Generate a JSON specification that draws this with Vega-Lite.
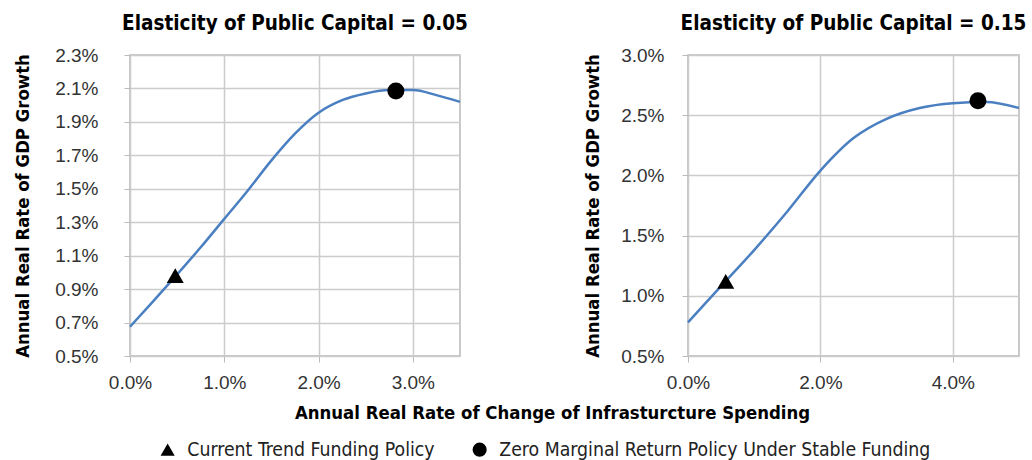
{
  "$schema": "https://vega.github.io/schema/vega-lite/v6.json",
  "padding": {"left": 12, "top": 12, "right": 8, "bottom": 4},
  "background": "white",
  "bounds": "flush",
  "spacing": 228,
  "resolve": {"scale": {"shape": "shared"}, "legend": {"shape": "shared"}},
  "config": {
    "view": {"stroke": "#b8b8b8", "strokeWidth": 1.5},
    "axis": {
      "labelFont": "Liberation Sans", "labelFontSize": 19, "labelColor": "#333333", "labelOverlap": false, "labelFlush": false,
      "titleFont": "DejaVu Sans Condensed", "titleFontWeight": "bold", "titleFontSize": 18.4, "titleColor": "#000000",
      "gridColor": "#cccccc", "gridWidth": 1.5, "domain": false, "tickColor": "#bbbbbb", "tickSize": 6
    },
    "title": {"font": "DejaVu Sans Condensed", "fontSize": 20.5, "fontWeight": "bold", "color": "#000000"},
    "legend": {"labelFont": "DejaVu Sans Condensed", "labelFontSize": 19.3, "labelColor": "#222222", "labelLimit": 0}
  },
  "datasets": {
    "left_curve": [
      {"x": 0.0, "y": 0.00675},
      {"x": 0.0025, "y": 0.0083},
      {"x": 0.005, "y": 0.00988},
      {"x": 0.0075, "y": 0.0115},
      {"x": 0.01, "y": 0.0132},
      {"x": 0.0125, "y": 0.0149},
      {"x": 0.015, "y": 0.0167},
      {"x": 0.0175, "y": 0.0183},
      {"x": 0.02, "y": 0.01955},
      {"x": 0.0225, "y": 0.0203},
      {"x": 0.025, "y": 0.0207},
      {"x": 0.0275, "y": 0.0209},
      {"x": 0.03, "y": 0.0209},
      {"x": 0.0325, "y": 0.0206},
      {"x": 0.035, "y": 0.0202}
    ],
    "left_points": [
      {"x": 0.0048, "y": 0.0098, "policy": "Current Trend Funding Policy"},
      {"x": 0.0282, "y": 0.02085, "policy": "Zero Marginal Return Policy Under Stable Funding"}
    ],
    "right_curve": [
      {"x": 0.0, "y": 0.0078},
      {"x": 0.005, "y": 0.0108},
      {"x": 0.01, "y": 0.0138},
      {"x": 0.015, "y": 0.017},
      {"x": 0.02, "y": 0.0204},
      {"x": 0.025, "y": 0.0231},
      {"x": 0.03, "y": 0.0247},
      {"x": 0.035, "y": 0.0256},
      {"x": 0.04, "y": 0.026},
      {"x": 0.045, "y": 0.0261},
      {"x": 0.05, "y": 0.0256}
    ],
    "right_points": [
      {"x": 0.0057, "y": 0.0112, "policy": "Current Trend Funding Policy"},
      {"x": 0.0438, "y": 0.0262, "policy": "Zero Marginal Return Policy Under Stable Funding"}
    ]
  },
  "hconcat": [
    {
      "width": 330,
      "height": 301,
      "title": {"text": "Elasticity of Public Capital = 0.05", "anchor": "middle", "offset": 12},
      "layer": [
        {
          "data": {"name": "left_curve"},
          "mark": {"type": "line", "color": "#4a7fc1", "strokeWidth": 2.5, "interpolate": "monotone"},
          "encoding": {
            "x": {"field": "x", "type": "quantitative", "scale": {"domain": [0, 0.035], "nice": false},
              "axis": {"values": [0, 0.01, 0.02, 0.03], "tickCount": 20, "format": ".1%", "labelPadding": 11,
                "title": "Annual Real Rate of Change of Infrasturcture Spending", "titleX": 422, "titleY": 47}},
            "y": {"field": "y", "type": "quantitative", "scale": {"domain": [0.005, 0.023], "nice": false, "zero": false},
              "axis": {"values": [0.005, 0.007, 0.009, 0.011, 0.013, 0.015, 0.017, 0.019, 0.021, 0.023], "tickCount": 20, "format": ".1%", "labelPadding": 26,
                "title": "Annual Real Rate of GDP Growth", "titlePadding": 22}}
          }
        },
        {
          "data": {"name": "left_points"},
          "mark": {"type": "point", "filled": true, "color": "#000000", "opacity": 1, "size": 289},
          "encoding": {
            "x": {"field": "x", "type": "quantitative"},
            "y": {"field": "y", "type": "quantitative"},
            "shape": {"field": "policy", "type": "nominal",
              "scale": {"domain": ["Current Trend Funding Policy", "Zero Marginal Return Policy Under Stable Funding"], "range": ["triangle-up", "circle"]},
              "legend": {"title": null, "orient": "none", "direction": "horizontal", "legendX": 28, "legendY": 385, "symbolSize": 200, "symbolFillColor": "#000000", "symbolStrokeColor": "#000000", "columnPadding": 34, "labelOffset": 10}}
          }
        }
      ]
    },
    {
      "width": 331,
      "height": 301,
      "title": {"text": "Elasticity of Public Capital = 0.15", "anchor": "middle", "offset": 12},
      "layer": [
        {
          "data": {"name": "right_curve"},
          "mark": {"type": "line", "color": "#4a7fc1", "strokeWidth": 2.5, "interpolate": "monotone"},
          "encoding": {
            "x": {"field": "x", "type": "quantitative", "scale": {"domain": [0, 0.05], "nice": false},
              "axis": {"values": [0, 0.02, 0.04], "tickCount": 20, "format": ".1%", "labelPadding": 11, "title": null}},
            "y": {"field": "y", "type": "quantitative", "scale": {"domain": [0.005, 0.03], "nice": false, "zero": false},
              "axis": {"values": [0.005, 0.01, 0.015, 0.02, 0.025, 0.03], "tickCount": 20, "format": ".1%", "labelPadding": 18,
                "title": "Annual Real Rate of GDP Growth", "titlePadding": 18}}
          }
        },
        {
          "data": {"name": "right_points"},
          "mark": {"type": "point", "filled": true, "color": "#000000", "opacity": 1, "size": 289},
          "encoding": {
            "x": {"field": "x", "type": "quantitative"},
            "y": {"field": "y", "type": "quantitative"},
            "shape": {"field": "policy", "type": "nominal",
              "scale": {"domain": ["Current Trend Funding Policy", "Zero Marginal Return Policy Under Stable Funding"], "range": ["triangle-up", "circle"]}}
          }
        }
      ]
    }
  ]
}
